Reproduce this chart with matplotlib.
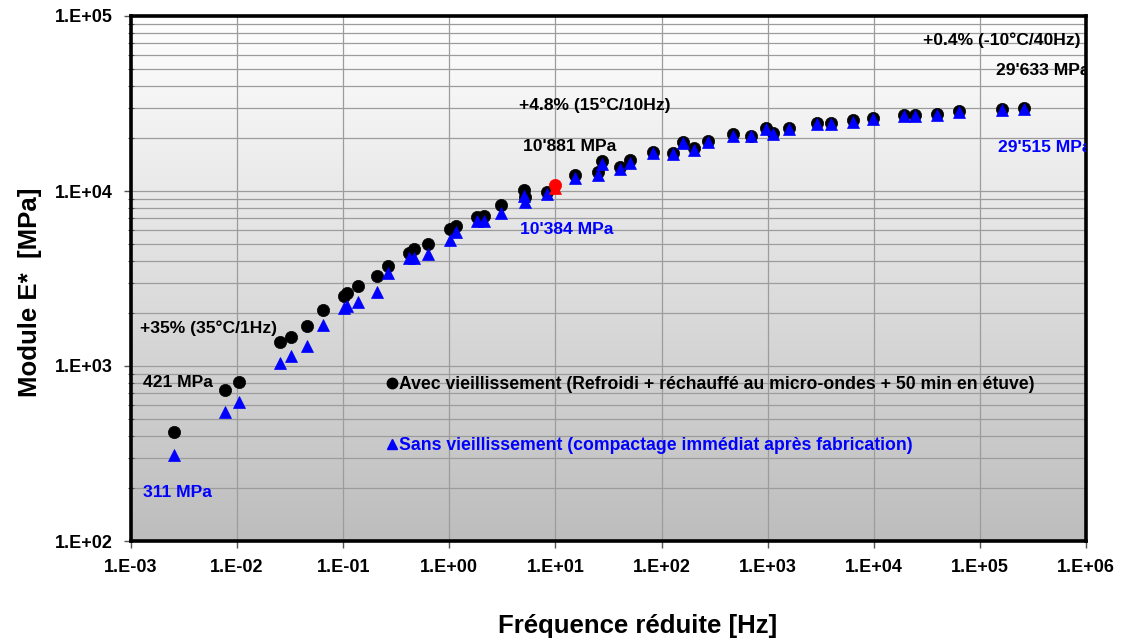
import numpy as np
import matplotlib
matplotlib.use("Agg")
import matplotlib.pyplot as plt
from matplotlib.colors import LinearSegmentedColormap
from matplotlib.lines import Line2D
from matplotlib.ticker import LogLocator, FuncFormatter, NullFormatter, NullLocator

plt.rcParams['font.family'] = ['Liberation Sans', 'DejaVu Sans']
plt.rcParams['font.weight'] = 'bold'

# Reduced frequency [Hz] of each measurement
freq = [0.00254, 0.00763, 0.0105, 0.0255, 0.0319, 0.0457, 0.0638, 0.1026, 0.108,
        0.138, 0.2095, 0.264, 0.419, 0.46, 0.628, 1.01, 1.15, 1.84, 2.12, 3.05,
        5.1, 5.2, 8.36, 15.4, 25.2, 27.5, 40.3, 50.8, 82.8, 127.7, 158.6, 204,
        276.5, 475, 690, 964, 1130, 1585, 2924, 3990, 6412, 9820, 19100, 24220,
        39270, 64150, 161400, 258000]

# |E*| [MPa] with ageing (cooled + microwave reheated + 50 min oven)
e_avec = [421, 729, 813, 1366, 1459, 1700, 2089, 2512, 2602,
          2876, 3268, 3743, 4440, 4660, 4958, 6066, 6335, 7073, 7224, 8318,
          10130, 9250, 9910, 12340, 12890, 14840, 13650, 15030, 16780, 16550, 19130, 17540,
          19300, 21080, 20700, 22810, 21550, 22990, 24370, 24370, 25460, 26020, 27190, 27190,
          27540, 28650, 29280, 29633]

# |E*| [MPa] without ageing (compacted right after mixing)
e_sans = [311, 548, 625, 1036, 1140, 1301, 1715, 2136, 2203,
          2330, 2658, 3386, 4125, 4125, 4348, 5248, 5852, 6741, 6741, 7516,
          9350, 8690, 9575, 11810, 12340, 14270, 13300, 14520, 16550, 16270, 18740, 17150,
          18970, 20700, 20500, 22530, 21080, 22610, 24040, 24040, 24890, 25780, 26840, 26840,
          27190, 28270, 28910, 29515]

# Reference point 15°C / 10 Hz
freq_ref = [10.0]
e_ref_avec = [10881]
e_ref_sans = [10384]

x_ticks = [1e-3, 1e-2, 1e-1, 1e0, 1e1, 1e2, 1e3, 1e4, 1e5, 1e6]
y_ticks = [1e2, 1e3, 1e4, 1e5]

label_avec = "Avec vieillissement (Refroidi + réchauffé au micro-ondes + 50 min en étuve)"
label_sans = "Sans vieillissement (compactage immédiat après fabrication)"


def mpa(v):
    return f"{v // 1000}'{v % 1000:03d} MPa" if v >= 1000 else f"{v} MPa"


W, H = 1135, 639
fig = plt.figure(figsize=(W / 100, H / 100), dpi=100)
rect = [131 / W, 1 - 541 / H, (1086 - 131) / W, (541 - 16) / H]

# Grey vertical gradient behind the plot area
bg = fig.add_axes(rect, zorder=0)
grad = np.linspace(0, 1, 256).reshape(-1, 1)
bg.imshow(grad, cmap=LinearSegmentedColormap.from_list('bg', ['#ffffff', '#bdbdbd']),
          aspect='auto', origin='upper', extent=[0, 1, 0, 1])
bg.set_axis_off()

ax = fig.add_axes(rect, zorder=1)
ax.set_facecolor('none')
ax.set_xscale('log')
ax.set_yscale('log')
ax.set_xlim(x_ticks[0], x_ticks[-1])
ax.set_ylim(y_ticks[0], y_ticks[-1])

ax.set_xticks(x_ticks)
ax.set_yticks(y_ticks)
ax.xaxis.set_minor_locator(NullLocator())
ax.yaxis.set_minor_locator(LogLocator(base=10, subs=range(2, 10)))
ax.yaxis.set_minor_formatter(NullFormatter())
fmt = FuncFormatter(lambda v, pos: f"1.E{int(round(np.log10(v))):+03d}")
ax.xaxis.set_major_formatter(fmt)
ax.yaxis.set_major_formatter(fmt)

ax.grid(True, which='major', axis='x', color='#9c9c9c', lw=0.9, zorder=1)
ax.grid(True, which='both', axis='y', color='#9c9c9c', lw=0.9, zorder=1)
ax.set_axisbelow(True)

ax.tick_params(which='major', direction='out', length=5, width=1, color='#555555',
               labelsize=13, pad=8)
ax.tick_params(which='minor', direction='inout', length=5, width=0.8, color='#555555')
for lab in ax.get_xticklabels() + ax.get_yticklabels():
    lab.set_fontweight('bold')
for s in ax.spines.values():
    s.set_linewidth(2.6)
    s.set_color('black')

ms = 8.8
ax.plot(freq, e_avec, linestyle='none', marker='o', ms=ms, color='black', mec='black', mew=0.5, zorder=3)
ax.plot(freq, e_sans, linestyle='none', marker='^', ms=ms, color='blue', mec='blue', mew=0.5, zorder=4)
ax.plot(freq_ref, e_ref_avec, linestyle='none', marker='o', ms=ms, color='red', mec='red', mew=0.5, zorder=5)
ax.plot(freq_ref, e_ref_sans, linestyle='none', marker='^', ms=ms, color='red', mec='red', mew=0.5, zorder=5)

ax.set_xlabel('Fréquence réduite [Hz]', fontsize=18.5, fontweight='bold')
ax.xaxis.label.set_va('center')
ax.xaxis.set_label_coords(0.530, -0.162)
ax.set_ylabel('Module E*  [MPa]', fontsize=18.5, fontweight='bold')
ax.yaxis.label.set_va('center')
ax.yaxis.label.set_ha('center')
ax.yaxis.set_label_coords(-0.106, 0.474)

tkw = dict(fontsize=12.6, fontweight='bold', ha='left', va='center', zorder=6, clip_on=True)
ax.text(1.215e-3, 1649, '+35% (35°C/1Hz)', color='black', **tkw)
ax.text(1.288e-3, 807, mpa(e_avec[0]), color='black', **tkw)
ax.text(1.30e-3, 190, mpa(e_sans[0]), color='blue', **tkw)
ax.text(4.53, 31000, '+4.8% (15°C/10Hz)', color='black', **tkw)
ax.text(4.94, 17920, mpa(e_ref_avec[0]), color='black', **tkw)
ax.text(4.62, 6040, mpa(e_ref_sans[0]), color='blue', **tkw)
ax.text(28970, 72900, '+0.4% (-10°C/40Hz)', color='black', **tkw)
ax.text(140900, 49100, mpa(e_avec[-1]), color='black', **tkw)
ax.text(148000, 17700, mpa(e_sans[-1]), color='blue', **tkw)

handles = [Line2D([], [], linestyle='none', marker='o', color='black', ms=7.5),
           Line2D([], [], linestyle='none', marker='^', color='blue', ms=7.5)]
leg = ax.legend(handles, [label_avec, label_sans], loc='upper left',
                bbox_to_anchor=(0.267, 0.314), frameon=False, borderpad=0,
                borderaxespad=0, handlelength=0.7, handletextpad=0.05,
                labelspacing=2.5, prop=dict(size=12.7, weight='bold'),
                labelcolor=['black', 'blue'])

fig.savefig('out.png', dpi=100)
